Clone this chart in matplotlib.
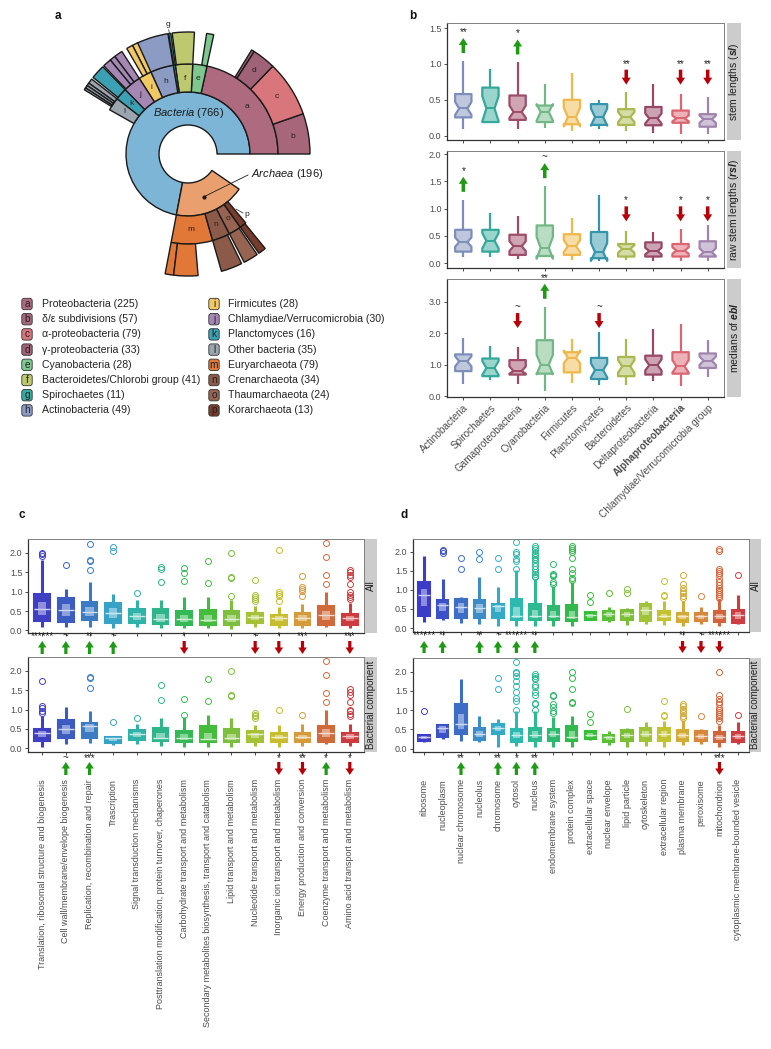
import numpy as np
import matplotlib
matplotlib.use("Agg")
import matplotlib.pyplot as plt
from matplotlib.patches import FancyBboxPatch
from matplotlib.colors import to_rgb

plt.rcParams["font.family"] = ["Liberation Sans", "DejaVu Sans"]
plt.rcParams["mathtext.fontset"] = "custom"
plt.rcParams["mathtext.rm"] = "Liberation Sans"
plt.rcParams["mathtext.it"] = "Liberation Sans:italic"
plt.rcParams["mathtext.bf"] = "Liberation Sans:bold"
plt.rcParams["mathtext.bfit"] = "Liberation Sans:italic:bold"

# -----------------------------
# data: panel a (sunburst + legend)
# -----------------------------
legend_letters = list("abcdefghijklmnop")
legend_names = ["Proteobacteria", "δ/ε subdivisions", "α-proteobacteria", "γ-proteobacteria",
                "Cyanobacteria", "Bacteroidetes/Chlorobi group", "Spirochaetes", "Actinobacteria",
                "Firmicutes", "Chlamydiae/Verrucomicrobia", "Planctomyces", "Other bacteria",
                "Euryarchaeota", "Crenarchaeota", "Thaumarchaeota", "Korarchaeota"]
legend_counts = [225, 57, 79, 33, 28, 41, 11, 49, 28, 30, 16, 35, 79, 34, 24, 13]

kingdom_names = ["Bacteria", "Archaea"]
kingdom_counts = [766, 196]
# second ring, wedge sizes as drawn (same units as kingdoms)
bac_phyla = ["a", "e", "f", "g", "h", "i", "j", "k", "l"]
bac_phyla_size = [230, 27, 33, 4, 44, 25, 34, 23, 25]
arc_phyla = ["m", "n", "o", "p"]
arc_phyla_size = [79, 34, 24, 13]
# outer ring, children of each phylum: (colour letter, size)
outer_ring = {
    "a": [("b", 57), ("c", 79), ("d", 33), ("d", 4)],
    "e": [("e", 10)],
    "f": [("f", 31)],
    "g": [("g", 3)],
    "h": [("h", 45)],
    "i": [("i", 8), ("i", 9)],
    "j": [("j", 12), ("j", 8), ("j", 12)],
    "k": [("k", 20)],
    "l": [("l", 7), ("l", 4), ("l", 4), ("l", 3)],
    "m": [("m", 12), ("m", 34)],
    "n": [("n", 30)],
    "o": [("o", 21)],
    "p": [("p", 11)],
}
sun_colors = {
    "Bacteria": "#7db5d6", "Archaea": "#e9a06e",
    "a": "#ae6b80", "b": "#a7667a", "c": "#d8767c", "d": "#a06276",
    "e": "#7ec88f", "f": "#bec86e", "g": "#38aaa0", "h": "#8c9bc4",
    "i": "#f0c864", "j": "#a587b4", "k": "#3ca0b4", "l": "#9ba5af",
    "m": "#e17837", "n": "#8c5a48", "o": "#966450", "p": "#783c2d",
}

# -----------------------------
# data: panel b
# -----------------------------
b_cats = ["Actinobacteria", "Spirochaetes", "Gamaproteobacteria", "Cyanobacteria", "Firmicutes",
          "Planctomycetes", "Bacteroidetes", "Deltaproteobacteria", "Alphaproteobacteria",
          "Chlamydiae/Verrucomicrobia group"]
b_colors = ["#7e8ebb", "#33a99a", "#9e4c68", "#72b886", "#eeb84c",
            "#3595aa", "#a9b94f", "#984766", "#db6570", "#a184ae"]

sl_lo = [0.09, 0.17, 0.10, 0.11, 0.07, 0.10, 0.065, 0.04, 0.03, 0.03]
sl_q1 = [0.255, 0.19, 0.22, 0.19, 0.16, 0.15, 0.15, 0.145, 0.18, 0.125]
sl_med = [0.38, 0.38, 0.33, 0.33, 0.26, 0.26, 0.26, 0.24, 0.24, 0.23]
sl_q3 = [0.58, 0.67, 0.56, 0.42, 0.50, 0.44, 0.37, 0.40, 0.35, 0.30]
sl_hi = [1.04, 0.93, 1.02, 0.72, 0.88, 0.50, 0.61, 0.72, 0.58, 0.54]
sl_cilo = [0.29, 0.20, 0.25, 0.21, 0.13, 0.14, 0.19, 0.17, 0.20, 0.18]
sl_cihi = [0.47, 0.55, 0.42, 0.44, 0.39, 0.38, 0.33, 0.31, 0.28, 0.28]

rsl_lo = [0.11, 0.11, 0.08, 0.12, 0.06, 0.03, 0.06, 0.03, 0.03, 0.03]
rsl_q1 = [0.21, 0.21, 0.15, 0.13, 0.15, 0.09, 0.12, 0.12, 0.12, 0.12]
rsl_med = [0.385, 0.41, 0.31, 0.28, 0.31, 0.20, 0.26, 0.22, 0.23, 0.20]
rsl_q3 = [0.61, 0.61, 0.52, 0.69, 0.53, 0.57, 0.35, 0.38, 0.35, 0.40]
rsl_hi = [1.16, 0.92, 0.87, 1.41, 0.82, 1.24, 0.58, 0.57, 0.62, 0.69]
rsl_cilo = [0.30, 0.27, 0.22, 0.08, 0.20, 0.04, 0.19, 0.16, 0.17, 0.13]
rsl_cihi = [0.47, 0.55, 0.40, 0.48, 0.42, 0.37, 0.33, 0.28, 0.29, 0.27]

ebl_lo = [0.39, 0.53, 0.39, 0.18, 0.42, 0.35, 0.36, 0.48, 0.32, 0.60]
ebl_q1 = [0.80, 0.64, 0.69, 0.72, 0.76, 0.55, 0.64, 0.69, 0.72, 0.90]
ebl_med = [1.11, 0.90, 0.80, 1.01, 1.22, 0.83, 0.95, 0.99, 0.95, 1.13]
ebl_q3 = [1.33, 1.20, 1.15, 1.78, 1.40, 1.22, 1.25, 1.29, 1.40, 1.36]
ebl_hi = [1.86, 1.59, 1.57, 2.84, 1.82, 2.04, 1.82, 2.14, 2.30, 1.78]
ebl_cilo = [0.95, 0.68, 0.72, 0.70, 1.05, 0.60, 0.75, 0.82, 0.75, 1.00]
ebl_cihi = [1.27, 1.12, 0.95, 1.32, 1.45, 1.05, 1.15, 1.17, 1.15, 1.26]

# significance: (category index, label)
sl_up = [(0, "**"), (2, "*")]
sl_down = [(6, "**"), (8, "**"), (9, "**")]
rsl_up = [(0, "*"), (3, "~")]
rsl_down = [(6, "*"), (8, "*"), (9, "*")]
ebl_up = [(3, "**")]
ebl_down = [(2, "~"), (5, "~")]

# -----------------------------
# data: panel c (COG categories)
# -----------------------------
c_cats = ["Translation, ribosomal structure and biogenesis", "Cell wall/membrane/envelope biogenesis",
          "Replication, recombination and repair", "Trascription", "Signal transduction mechanisms",
          "Posttranslation modification, protein turnover, chaperones",
          "Carbohydrate transport and metabolism",
          "Secondary metabolites biosynthesis, transport and catabolism",
          "Lipid transport and metabolism", "Nucleotide transport and metabolism",
          "Inorganic ion transport and metabolism", "Energy production and conversion",
          "Coenzyme transport and metabolism", "Amino acid transport and metabolism"]
c_colors = ["#3f3fc4", "#3c5cc2", "#3a7bc4", "#36a3c6", "#2fb3a8", "#2fb58a", "#35b957",
            "#46bc3e", "#7cbf3c", "#a5c236", "#c8bd2e", "#d59a3a", "#d06a3b", "#ce3b3f"]

c_all_lo = [0.10, 0.10, 0.10, 0.06, 0.09, 0.06, 0.06, 0.06, 0.04, 0.09, 0.06, 0.06, 0.10, 0.06]
c_all_q1 = [0.23, 0.21, 0.26, 0.20, 0.19, 0.16, 0.15, 0.15, 0.15, 0.19, 0.15, 0.15, 0.15, 0.13]
c_all_med = [0.55, 0.53, 0.48, 0.44, 0.36, 0.29, 0.29, 0.27, 0.29, 0.34, 0.32, 0.33, 0.40, 0.33]
c_all_q3 = [0.94, 0.83, 0.74, 0.72, 0.55, 0.56, 0.51, 0.53, 0.50, 0.44, 0.40, 0.44, 0.62, 0.42]
c_all_hi = [1.81, 1.06, 1.24, 0.93, 0.79, 0.79, 0.85, 0.85, 0.79, 0.62, 0.60, 0.68, 1.00, 0.72]
c_all_out = [[2.0, 1.96, 1.92], [1.69], [2.22, 1.81, 1.79, 1.55], [2.15, 2.06], [0.96],
             [1.63, 1.58, 1.25], [1.60, 1.47, 1.27], [1.78, 1.22], [2.0, 1.38, 1.36, 0.88],
             [1.31, 0.92, 0.85, 0.80, 0.76], [2.08, 0.99, 0.94, 0.90, 0.76],
             [1.40, 1.12, 1.07, 1.03, 0.88], [2.26, 1.89, 1.43, 1.20],
             [1.55, 1.51, 1.42, 1.38, 1.20, 1.0, 0.92, 0.85, 0.80]]

c_bac_lo = [0.02, 0.10, 0.13, 0.08, 0.10, 0.06, 0.04, 0.04, 0.04, 0.06, 0.04, 0.06, 0.10, 0.06]
c_bac_q1 = [0.19, 0.25, 0.25, 0.14, 0.21, 0.19, 0.17, 0.17, 0.17, 0.17, 0.15, 0.15, 0.17, 0.15]
c_bac_med = [0.40, 0.49, 0.57, 0.25, 0.36, 0.27, 0.27, 0.23, 0.25, 0.36, 0.30, 0.30, 0.40, 0.32]
c_bac_q3 = [0.50, 0.73, 0.66, 0.30, 0.47, 0.53, 0.44, 0.57, 0.49, 0.44, 0.38, 0.38, 0.57, 0.40]
c_bac_hi = [0.83, 1.07, 0.97, 0.30, 0.62, 0.78, 0.80, 0.85, 0.79, 0.59, 0.59, 0.62, 1.00, 0.62]
c_bac_out = [[1.75, 1.08, 1.04, 0.97, 0.92], [], [1.83, 1.81, 1.55], [0.67], [0.78], [1.63, 1.25],
             [1.27, 0.85], [1.78, 1.22], [2.0, 1.38, 1.36], [0.92, 0.87, 0.83, 0.79], [1.0], [0.87],
             [2.26, 1.89, 1.43, 1.20], [1.53, 1.45, 1.38, 1.20, 1.0, 0.95, 0.88, 0.82]]

c_all_up = [(0, "******"), (1, "~"), (2, "**"), (3, "~")]
c_all_down = [(6, "*"), (9, "~"), (10, "*"), (11, "***"), (13, "***")]
c_bac_up = [(1, "~"), (2, "***"), (12, "*")]
c_bac_down = [(10, "*"), (11, "**"), (13, "*")]

# -----------------------------
# data: panel d (GO cellular component)
# -----------------------------
d_cats = ["ribosome", "nucleoplasm", "nuclear chromosome", "nucleolus", "chromosome", "cytosol",
          "nucleus", "endomembrane system", "protein complex", "extracellular space",
          "nuclear envelope", "lipid particle", "cytoskeleton", "extracellular region",
          "plasma membrane", "peroxisome", "mitochondrion", "cytoplasmic membrane-bounded vesicle"]
d_colors = ["#3c3cc8", "#3c50c8", "#3c6ec8", "#3c8cc8", "#32aac8", "#2db9af", "#2db991",
            "#2db96e", "#32b94b", "#37be37", "#5abe37", "#7dbe37", "#a0c337", "#c3c332",
            "#d2aa37", "#d7873c", "#d2643c", "#cd3c41"]

d_all_lo = [0.15, 0.20, 0.13, 0.11, 0.04, 0.06, 0.04, 0.06, 0.06, 0.20, 0.17, 0.09, 0.11, 0.09, 0.06, 0.11, 0.04, 0.11]
d_all_q1 = [0.32, 0.26, 0.26, 0.26, 0.26, 0.22, 0.22, 0.20, 0.18, 0.22, 0.20, 0.20, 0.18, 0.20, 0.16, 0.18, 0.15, 0.13]
d_all_med = [0.86, 0.61, 0.55, 0.53, 0.57, 0.31, 0.31, 0.31, 0.29, 0.33, 0.38, 0.38, 0.48, 0.32, 0.31, 0.31, 0.31, 0.35]
d_all_q3 = [1.21, 0.73, 0.77, 0.73, 0.63, 0.77, 0.64, 0.59, 0.61, 0.42, 0.44, 0.48, 0.64, 0.44, 0.39, 0.39, 0.44, 0.48]
d_all_hi = [1.90, 1.30, 0.82, 1.34, 1.08, 1.52, 1.30, 1.10, 1.20, 0.45, 0.55, 0.53, 0.70, 0.70, 0.72, 0.55, 0.76, 0.88]
d_all_out = [[], [2.06, 2.02, 1.98], [1.83, 1.54], [1.99, 1.82], [1.83, 1.54],
             [2.25, 2.0, 1.95, 1.82, 1.77, 1.55],
             [2.15, 2.1, 2.05, 1.98, 1.93, 1.87, 1.82, 1.78, 1.72, 1.62, 1.55, 1.48, 1.43, 1.38, 1.33],
             [1.68, 1.43, 1.40, 1.36, 1.20, 1.15],
             [2.15, 2.10, 2.05, 2.0, 1.85, 1.55, 1.45, 1.31, 1.26],
             [0.88, 0.68], [0.92], [1.02, 0.93], [], [1.24, 0.87, 0.84],
             [1.40, 1.15, 1.05, 0.98, 0.92, 0.85, 0.78], [0.85],
             [2.08, 2.02, 1.55, 1.50, 1.45, 1.40, 1.30, 1.20, 1.12, 1.05, 1.0, 0.95, 0.90, 0.85, 0.80],
             [1.40]]

d_bac_lo = [0.18, 0.24, 0.20, 0.18, 0.03, 0.06, 0.04, 0.04, 0.04, 0.22, 0.09, 0.03, 0.06, 0.04, 0.09, 0.11, 0.03, 0.13]
d_bac_q1 = [0.20, 0.29, 0.39, 0.22, 0.39, 0.18, 0.20, 0.20, 0.20, 0.25, 0.18, 0.20, 0.20, 0.20, 0.20, 0.20, 0.16, 0.18]
d_bac_med = [0.29, 0.54, 0.64, 0.39, 0.53, 0.35, 0.35, 0.39, 0.31, 0.35, 0.29, 0.35, 0.39, 0.39, 0.35, 0.32, 0.31, 0.32]
d_bac_q3 = [0.35, 0.61, 1.17, 0.53, 0.64, 0.51, 0.54, 0.50, 0.59, 0.45, 0.35, 0.48, 0.53, 0.53, 0.48, 0.46, 0.42, 0.44]
d_bac_hi = [0.35, 0.64, 1.82, 0.85, 0.76, 0.99, 0.99, 0.83, 0.85, 0.48, 0.45, 0.53, 0.70, 0.73, 0.75, 0.50, 0.61, 0.68]
d_bac_out = [[0.97], [], [], [], [1.83, 1.55],
             [2.25, 2.0, 1.97, 1.90, 1.75, 1.62, 1.48, 1.32, 1.25, 1.0],
             [1.93, 1.90, 1.83, 1.80, 1.65, 1.60, 1.48, 1.40, 1.20, 1.15, 1.0],
             [1.40, 1.37, 1.15, 1.08, 0.98, 0.92], [2.0, 1.85, 1.55, 1.22, 1.20], [0.90, 0.68],
             [], [1.03], [], [1.24, 0.88, 0.85], [1.17, 1.10, 1.03, 0.98, 0.92, 0.85, 0.80], [0.85],
             [2.0, 1.40, 1.30, 1.22, 1.15, 1.05, 1.0, 0.95, 0.90, 0.85, 0.80, 0.72], [0.88]]

d_all_up = [(0, "******"), (1, "**"), (3, "**"), (4, "~"), (5, "******"), (6, "**")]
d_all_down = [(14, "**"), (15, "~"), (16, "******")]
d_bac_up = [(2, "**"), (4, "**"), (5, "*"), (6, "**")]
d_bac_down = [(16, "***")]

# -----------------------------
# figure helpers
# -----------------------------
W, H = 771, 1049
GREEN, RED = "#1e9a14", "#b80008"
TXT, TICK = "#222222", "#4d4d4d"

fig = plt.figure(figsize=(W / 100, H / 100), dpi=100)


def px_axes(x0, y0, x1, y1, **kw):
    return fig.add_axes([x0 / W, 1 - y1 / H, (x1 - x0) / W, (y1 - y0) / H], **kw)


def lighten(c, f):
    r, g, b = to_rgb(c)
    return (r + (1 - r) * f, g + (1 - g) * f, b + (1 - b) * f)


def style_frame(ax):
    ax.set_facecolor("white")
    for s in ("left", "bottom"):
        ax.spines[s].set_color("#333333")
        ax.spines[s].set_linewidth(0.9)
    for s in ("top", "right"):
        ax.spines[s].set_color("#808080")
        ax.spines[s].set_linewidth(0.7)
    ax.tick_params(length=2.5, width=0.6, color="#333333", labelsize=6.5,
                   labelcolor=TICK, pad=1.5)


def strip(x0, y0, x1, y1, label, size):
    s = px_axes(x0, y0, x1, y1)
    s.set_facecolor("#cccccc")
    s.set_xticks([])
    s.set_yticks([])
    for sp in s.spines.values():
        sp.set_visible(False)
    s.text(0.5, 0.5, label, rotation=90, ha="center", va="center",
           fontsize=size, color=TXT, transform=s.transAxes)


def px_scale(ax):
    bb = ax.get_position()
    x0, x1 = ax.get_xlim()
    y0, y1 = ax.get_ylim()
    return bb.width * W / (x1 - x0), bb.height * H / (y1 - y0)


def y_of_px(ax, ypx):
    bb = ax.get_position()
    bottom_px = (1 - bb.y0) * H
    _, sy = px_scale(ax)
    return ax.get_ylim()[0] + (bottom_px - ypx) / sy


def arrow(ax, x, y_from, y_to, col, shaft=3.5, head=9.0, headlen=7.0):
    sx, sy = px_scale(ax)
    ax.arrow(x, y_from, 0, y_to - y_from, width=shaft / sx, head_width=head / sx,
             head_length=headlen / sy, length_includes_head=True, color=col, lw=0,
             clip_on=False, zorder=6)


def notched_boxes(ax, lo, q1, med, q3, hi, cilo, cihi, colors):
    for i in range(len(med)):
        st = dict(whislo=lo[i], q1=q1[i], med=med[i], q3=q3[i], whishi=hi[i],
                  cilo=cilo[i], cihi=cihi[i], fliers=[])
        c = colors[i]
        ax.bxp([st], positions=[i + 1], widths=0.6, patch_artist=True, shownotches=True,
               showcaps=False, showfliers=False, manage_ticks=False,
               boxprops=dict(facecolor=lighten(c, 0.5), edgecolor=c, linewidth=1.6,
                             joinstyle="round"),
               whiskerprops=dict(color=c, linewidth=1.6, solid_capstyle="butt"),
               medianprops=dict(color=c, linewidth=1.4, zorder=4))


def filled_boxes(ax, lo, q1, med, q3, hi, outl, colors, width):
    for i in range(len(med)):
        st = dict(whislo=lo[i], q1=q1[i], med=med[i], q3=q3[i], whishi=hi[i], fliers=outl[i])
        c = colors[i]
        ax.bxp([st], positions=[i + 1], widths=width, patch_artist=True, showcaps=False,
               manage_ticks=False,
               boxprops=dict(facecolor=c, edgecolor=c, linewidth=1.5),
               whiskerprops=dict(color=c, linewidth=2.2, solid_capstyle="butt"),
               medianprops=dict(color=lighten(c, 0.75), linewidth=1.0, zorder=5),
               flierprops=dict(marker="o", markerfacecolor="none", markeredgecolor=c,
                               markersize=4.3, markeredgewidth=0.7))
        lo_n = (q1[i] + med[i]) / 2
        hi_n = (med[i] + q3[i]) / 2
        ax.bar(i + 1, hi_n - lo_n, bottom=lo_n, width=width * 0.55, color="white",
               alpha=0.42, lw=0, zorder=4)


# -----------------------------
# panel a: sunburst
# -----------------------------
R0, R1, R2, R3 = 29, 62, 90, 122
deg_per = 325.5 / sum(kingdom_counts)

sun = px_axes(48, 14, 328, 294, projection="polar")
sun.set_ylim(0, 140)
sun.set_axis_off()
edge = dict(edgecolor="#1a1a1a", linewidth=1.0, align="edge")

start = 0.0
phylum_start = {}
phylum_span = {}
for kname, kn, kids, ksz in zip(kingdom_names, kingdom_counts,
                                [bac_phyla, arc_phyla], [bac_phyla_size, arc_phyla_size]):
    sun.bar(np.deg2rad(start), R1 - R0, width=np.deg2rad(kn * deg_per), bottom=R0,
            color=sun_colors[kname], **edge)
    p = start
    for let, n in zip(kids, ksz):
        sun.bar(np.deg2rad(p), R2 - R1, width=np.deg2rad(n * deg_per), bottom=R1,
                color=sun_colors[let], **edge)
        phylum_start[let] = p
        phylum_span[let] = n * deg_per
        p += n * deg_per
    start += kn * deg_per

for parent, kids in outer_ring.items():
    p = phylum_start[parent]
    for let, n in kids:
        sun.bar(np.deg2rad(p), R3 - R2, width=np.deg2rad(n * deg_per), bottom=R2,
                color=sun_colors[let], **edge)
        if let in "bcd" and n > 10:
            sun.text(np.deg2rad(p + n * deg_per / 2), (R2 + R3) / 2, let, ha="center",
                     va="center", fontsize=6, color=TXT)
        p += n * deg_per

for let in ["a", "e", "f", "h", "i", "j", "k", "l", "m", "n", "o"]:
    mid = phylum_start[let] + phylum_span[let] / 2
    sun.text(np.deg2rad(mid), (R1 + R2) / 2, let, ha="center", va="center",
             fontsize=6, color=TXT)

g_mid = phylum_start["g"] + phylum_span["g"] / 2
sun.plot([np.deg2rad(g_mid)] * 2, [R3, R3 + 4], color="#333333", lw=0.5)
sun.text(np.deg2rad(g_mid), R3 + 9, "g", ha="center", va="center", fontsize=6, color=TXT)

# -----------------------------
# overlay for annotations in pixel coordinates
# -----------------------------
ov = px_axes(0, 0, W, H)
ov.set_xlim(0, W)
ov.set_ylim(H, 0)
ov.set_axis_off()
ov.patch.set_alpha(0)

for lab, (x, y) in zip("abcd", [(58, 16), (413, 16), (22, 515), (404, 515)]):
    ov.text(x, y, lab, fontsize=8.5, fontweight="bold", ha="center", va="center", color="#111111")

ov.text(189, 113, r"$\it{Bacteria}$ (766)", ha="center", va="center", fontsize=8, color="#1a1a1a")
ov.text(251, 174, r"$\it{Archaea}$ (196)", ha="left", va="center", fontsize=8, color="#1a1a1a")
ov.plot([204, 248], [196.7, 175], color="#1a1a1a", lw=0.6)
ov.plot([204], [196.7], marker="o", ms=2, color="#1a1a1a")
ov.plot([236, 243], [209, 213], color="#1a1a1a", lw=0.5)
ov.text(247, 214, "p", ha="center", va="center", fontsize=6, color=TXT)

for k, (let, name, n) in enumerate(zip(legend_letters, legend_names, legend_counts)):
    col, row = divmod(k, 8)
    xb = [27, 214][col]
    xt = [42, 228][col]
    y = 304 + 15.2 * row
    ov.add_patch(FancyBboxPatch((xb - 4, y - 4.5), 8, 9,
                                boxstyle="round,pad=1.2,rounding_size=2.5",
                                fc=sun_colors[let], ec="#333333", lw=0.6))
    ov.text(xb, y, let, ha="center", va="center", fontsize=7.3, color=TXT)
    ov.text(xt, y, f"{name} ({n})", ha="left", va="center", fontsize=7.6, color=TXT)

# -----------------------------
# panel b
# -----------------------------
b_specs = [
    (23, 140, (sl_lo, sl_q1, sl_med, sl_q3, sl_hi, sl_cilo, sl_cihi), (-0.06, 1.57),
     [0, 0.5, 1.0, 1.5], r"stem lengths ($\mathbfit{sl}$)", sl_up, sl_down, 0.92),
    (151, 268, (rsl_lo, rsl_q1, rsl_med, rsl_q3, rsl_hi, rsl_cilo, rsl_cihi), (-0.09, 2.055),
     [0, 0.5, 1.0, 1.5, 2.0], r"raw stem lengths ($\mathbfit{rsl}$)", rsl_up, rsl_down, 1.04),
    (279, 397, (ebl_lo, ebl_q1, ebl_med, ebl_q3, ebl_hi, ebl_cilo, ebl_cihi), (-0.02, 3.72),
     [0, 1.0, 2.0, 3.0], r"medians of $\mathbfit{ebl}$", ebl_up, ebl_down, 2.64),
]
for k, (y0, y1, st, ylim, yt, slab, ups, downs, down_top) in enumerate(b_specs):
    ax = px_axes(447, y0, 724, y1)
    style_frame(ax)
    ax.set_xlim(0.4, len(b_cats) + 0.6)
    ax.set_ylim(*ylim)
    ax.set_yticks(yt)
    ax.set_yticklabels([f"{v:.1f}" for v in yt])
    notched_boxes(ax, *st, b_colors)
    ax.set_xticks(np.arange(1, len(b_cats) + 1))
    if k == 2:
        ax.set_xticklabels(b_cats, rotation=45, ha="right", rotation_mode="anchor", fontsize=7.2)
        ax.get_xticklabels()[8].set_fontweight("bold")
    else:
        ax.set_xticklabels([])
    strip(727, y0, 741, y1, slab, 7.5)
    sx, sy = px_scale(ax)
    hi = st[4]
    for i, lab in ups:
        base = hi[i] + 8 / sy
        tip = base + 15 / sy
        arrow(ax, i + 1, base, tip, GREEN)
        ax.text(i + 1, tip + 6 / sy, lab, ha="center", va="center", fontsize=7, color=TXT)
    for i, lab in downs:
        arrow(ax, i + 1, down_top, down_top - 15 / sy, RED)
        ax.text(i + 1, down_top + 6 / sy, lab, ha="center", va="center", fontsize=7, color=TXT)

# -----------------------------
# panels c and d
# -----------------------------
cd_specs = [
    # x0, x1, strip x1, y0, y1, stats, colors, cats, ylim, width, strip label, ups, downs, star_px, arrow_px
    (28, 364, 377, 539, 633, (c_all_lo, c_all_q1, c_all_med, c_all_q3, c_all_hi, c_all_out),
     c_colors, c_cats, (-0.067, 2.36), 0.66, "All", c_all_up, c_all_down, 636, (641, 654), False),
    (28, 364, 377, 657, 752, (c_bac_lo, c_bac_q1, c_bac_med, c_bac_q3, c_bac_hi, c_bac_out),
     c_colors, c_cats, (-0.1, 2.36), 0.66, "Bacterial component", c_bac_up, c_bac_down, 758,
     (762, 775), True),
    (413, 749, 761, 539, 632, (d_all_lo, d_all_q1, d_all_med, d_all_q3, d_all_hi, d_all_out),
     d_colors, d_cats, (-0.105, 2.34), 0.62, "All", d_all_up, d_all_down, 635, (641, 653), False),
    (413, 749, 761, 658, 752, (d_bac_lo, d_bac_q1, d_bac_med, d_bac_q3, d_bac_hi, d_bac_out),
     d_colors, d_cats, (-0.09, 2.36), 0.62, "Bacterial component", d_bac_up, d_bac_down, 758,
     (762, 775), True),
]
for (x0, x1, sx1, y0, y1, st, cols, cats, ylim, wd, slab, ups, downs, star_px, (a_top, a_bot),
     labels) in cd_specs:
    ax = px_axes(x0, y0, x1, y1)
    style_frame(ax)
    ax.set_xlim(0.4, len(cats) + 0.6)
    ax.set_ylim(*ylim)
    ax.set_yticks([0, 0.5, 1.0, 1.5, 2.0])
    ax.set_yticklabels(["0.0", "0.5", "1.0", "1.5", "2.0"])
    lo, q1, med, q3, hi, outl = st
    filled_boxes(ax, lo, q1, med, q3, hi, outl, cols, wd)
    ax.set_xticks(np.arange(1, len(cats) + 1))
    if labels:
        ax.set_xticklabels(cats, rotation=90, fontsize=6.5)
        ax.tick_params(axis="x", pad=17)
    else:
        ax.set_xticklabels([])
    strip(x1 + 1, y0, sx1, y1, slab, 7)
    y_star = y_of_px(ax, star_px)
    y_top = y_of_px(ax, a_top)
    y_bot = y_of_px(ax, a_bot)
    for i, lab in ups:
        arrow(ax, i + 1, y_bot, y_top, GREEN, shaft=3.2, head=8.5, headlen=6.5)
        ax.text(i + 1, y_star, lab, ha="center", va="center", fontsize=7, color=TXT, clip_on=False)
    for i, lab in downs:
        arrow(ax, i + 1, y_top, y_bot, RED, shaft=3.2, head=8.5, headlen=6.5)
        ax.text(i + 1, y_star, lab, ha="center", va="center", fontsize=7, color=TXT, clip_on=False)

fig.savefig("out.png", dpi=100)
